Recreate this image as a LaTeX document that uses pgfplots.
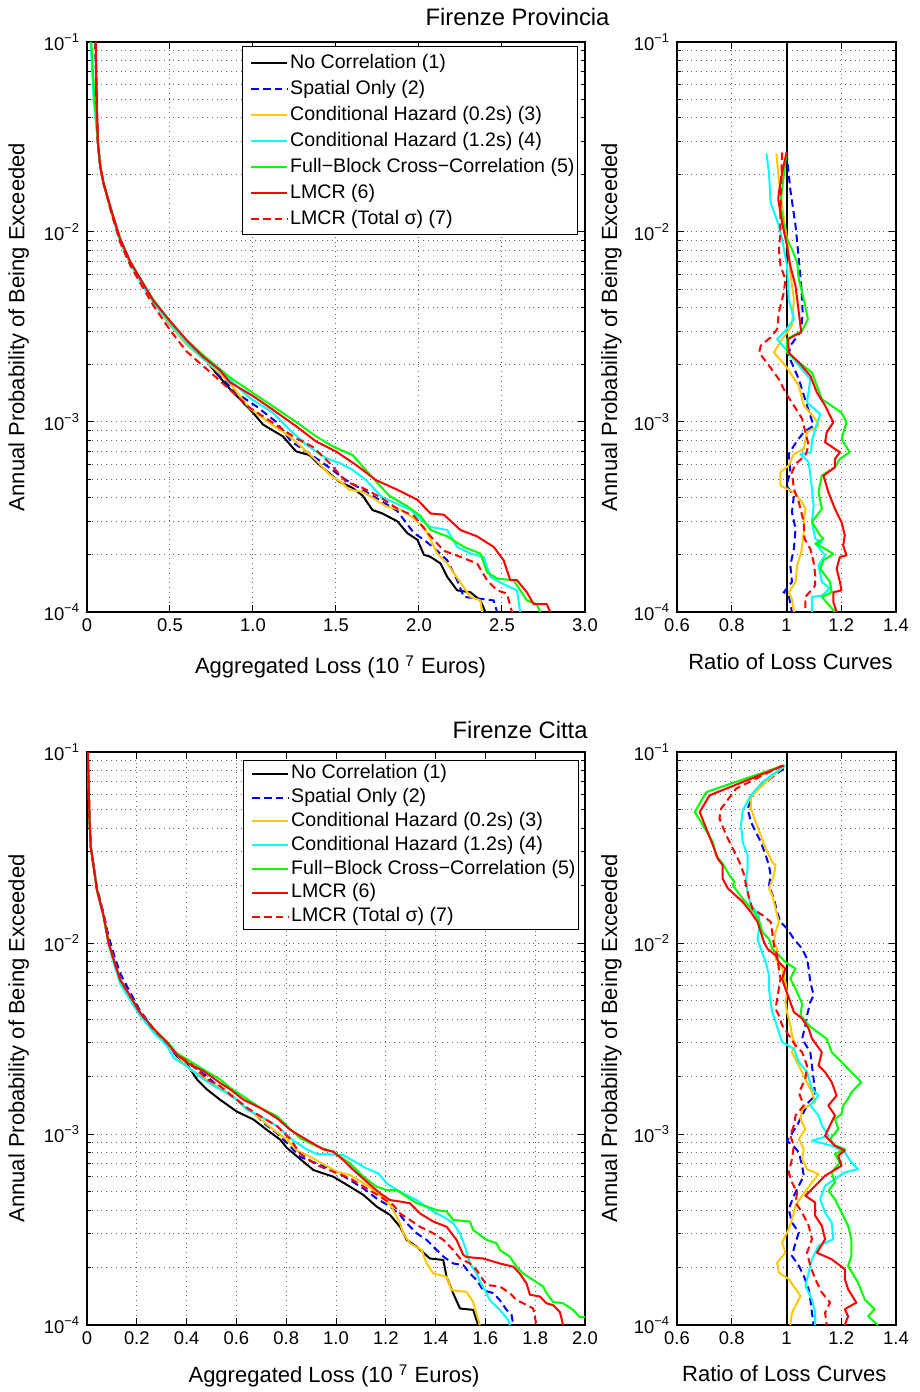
\documentclass[border=0pt]{standalone}
\usepackage{fontspec}
\setmainfont{Liberation Sans}
\usepackage{pgfplots}
\pgfplotsset{compat=1.18}
\definecolor{cYel}{rgb}{1,0.78,0}
\definecolor{cCya}{rgb}{0,1,1}
\definecolor{cGre}{rgb}{0,1,0}
\tikzset{
  curveA/.style={black, line width=1pt, line join=round},
  curveB/.style={blue, line width=1pt, dash pattern=on 3.7pt off 2.2pt},
  curveC/.style={cYel, line width=1pt, line join=round},
  curveD/.style={cCya, line width=1pt, line join=round},
  curveE/.style={cGre, line width=1pt, line join=round},
  curveF/.style={red, line width=1pt, line join=round},
  curveG/.style={red, line width=1pt, dash pattern=on 3.7pt off 2.2pt},
}
\begin{document}
\begin{tikzpicture}
\useasboundingbox (0,0) rectangle (460pt,696pt);
% ---------------- top left ----------------
\begin{axis}[scale only axis, anchor=south west, at={(43.5pt,390pt)}, width=249pt, height=285pt,
  ymode=log, ymin=1e-4, ymax=1e-1, ytick={1e-4,1e-3,1e-2,1e-1},
  yticklabels={10\textsuperscript{−4},10\textsuperscript{−3},10\textsuperscript{−2},10\textsuperscript{−1}},
  ymajorgrids=true, yminorgrids=true, xmajorgrids=true,
  major grid style={dotted, black!60, line width=0.5pt},
  minor grid style={dotted, black!60, line width=0.5pt},
  major tick length=3.5pt, minor tick length=2pt,
  tick style={black, line width=0.5pt},
  axis line style={black, line width=0.6pt},
  tick label style={font=\fontsize{9.2}{11}\selectfont},
  label style={font=\fontsize{11}{13}\selectfont},
  every axis title shift=0pt,
  title style={font=\fontsize{11.9}{14}\selectfont, inner sep=0pt},
  ylabel={Annual Probability of Being Exceeded},
  legend cell align=left,
  legend image code/.code={\draw[line width=1pt,#1] (3.5pt,0pt) -- (21.5pt,0pt); \path (0pt,0pt);},
  xmin=0, xmax=3, xtick={0,0.5,1,1.5,2,2.5,3}, xticklabels={0,0.5,1.0,1.5,2.0,2.5,3.0},
  xlabel={Aggregated Loss (10 \textsuperscript{7} Euros)},
  xlabel style={at={(axis description cs:0.509,-0.0965)}, anchor=center},
  ylabel style={at={(axis description cs:-0.137,0.5)}, anchor=center},
  title={Firenze Provincia},
  title style={at={(axis description cs:1.05,1.044)}, anchor=east},
  legend style={at={(axis description cs:0.986,0.993)}, anchor=north east, draw=black, line width=0.7pt, fill=white, inner xsep=0.5pt, inner ysep=1.5pt, row sep=0pt, font=\fontsize{9.8}{11}\selectfont, nodes={inner sep=0.9pt, text height=8.3pt, text depth=2.9pt}},
]
\addplot[curveA] coordinates {(0.052,0.1) (0.058,0.05) (0.065,0.03) (0.08,0.022) (0.1,0.018) (0.15,0.0125) (0.2,9.0e-3) (0.26,6.9e-3) (0.32,5.6e-3) (0.4,4.3e-3) (0.5,3.25e-3) (0.6,2.6e-3) (0.7,2.2e-3) (0.78,1.8e-3) (0.859,1.5e-3) (1.0,1.12e-3) (1.06,9.7e-4) (1.18,8.4e-4) (1.26,7.0e-4) (1.34,6.7e-4) (1.40,5.95e-4) (1.52,4.85e-4) (1.60,4.5e-4) (1.66,4.1e-4) (1.72,3.44e-4) (1.78,3.3e-4) (1.87,3.0e-4) (1.93,2.6e-4) (1.99,2.4e-4) (2.03,2.0e-4) (2.07,1.95e-4) (2.13,1.8e-4) (2.17,1.53e-4) (2.23,1.3e-4) (2.31,1.27e-4) (2.37,1.15e-4) (2.40,1.0e-4)};
\addlegendentry{No Correlation (1)}
\addplot[curveB] coordinates {(0.05,0.1) (0.056,0.05) (0.065,0.03) (0.08,0.022) (0.1,0.018) (0.15,0.0127) (0.2,9.2e-3) (0.26,7.0e-3) (0.32,5.6e-3) (0.4,4.3e-3) (0.5,3.3e-3) (0.6,2.65e-3) (0.7,2.2e-3) (0.8,1.75e-3) (0.9,1.42e-3) (1.02,1.21e-3) (1.14,1.0e-3) (1.23,7.9e-4) (1.32,7.0e-4) (1.42,6.1e-4) (1.56,4.95e-4) (1.66,4.4e-4) (1.76,3.9e-4) (1.87,3.4e-4) (1.91,3.05e-4) (1.97,2.6e-4) (2.03,2.4e-4) (2.11,2.1e-4) (2.17,1.87e-4) (2.23,1.47e-4) (2.27,1.2e-4) (2.35,1.18e-4) (2.45,1.15e-4) (2.47,1.0e-4)};
\addlegendentry{Spatial Only (2)}
\addplot[curveC] coordinates {(0.025,0.1) (0.045,0.05) (0.065,0.03) (0.08,0.022) (0.1,0.018) (0.15,0.0125) (0.2,9.0e-3) (0.26,6.9e-3) (0.32,5.6e-3) (0.4,4.25e-3) (0.5,3.25e-3) (0.6,2.55e-3) (0.7,2.15e-3) (0.8,1.8e-3) (0.86,1.6e-3) (0.98,1.18e-3) (1.10,9.9e-4) (1.22,8.4e-4) (1.30,7.3e-4) (1.38,6.3e-4) (1.46,5.3e-4) (1.54,4.76e-4) (1.58,4.4e-4) (1.66,4.3e-4) (1.74,3.9e-4) (1.80,3.6e-4) (1.89,3.45e-4) (1.95,3.2e-4) (2.03,2.8e-4) (2.07,2.4e-4) (2.11,2.03e-4) (2.17,1.8e-4) (2.21,1.6e-4) (2.27,1.35e-4) (2.31,1.2e-4) (2.37,1.15e-4) (2.38,1.0e-4)};
\addlegendentry{Conditional Hazard (0.2s) (3)}
\addplot[curveD] coordinates {(0.022,0.1) (0.04,0.05) (0.065,0.03) (0.08,0.022) (0.1,0.018) (0.15,0.0124) (0.2,8.9e-3) (0.26,6.8e-3) (0.32,5.5e-3) (0.4,4.25e-3) (0.5,3.3e-3) (0.6,2.6e-3) (0.7,2.15e-3) (0.8,1.85e-3) (0.86,1.67e-3) (0.98,1.34e-3) (1.12,1.12e-3) (1.22,9.1e-4) (1.32,7.6e-4) (1.44,6.45e-4) (1.52,6.1e-4) (1.60,5.6e-4) (1.68,4.95e-4) (1.78,4.0e-4) (1.87,3.7e-4) (1.95,3.45e-4) (2.01,3.05e-4) (2.07,2.8e-4) (2.17,2.7e-4) (2.23,2.2e-4) (2.31,2.03e-4) (2.39,1.95e-4) (2.43,1.53e-4) (2.51,1.4e-4) (2.59,1.3e-4) (2.61,1.0e-4)};
\addlegendentry{Conditional Hazard (1.2s) (4)}
\addplot[curveE] coordinates {(0.025,0.1) (0.045,0.05) (0.065,0.03) (0.08,0.022) (0.1,0.018) (0.15,0.0127) (0.2,9.2e-3) (0.26,7.0e-3) (0.32,5.7e-3) (0.4,4.4e-3) (0.5,3.4e-3) (0.6,2.7e-3) (0.7,2.25e-3) (0.8,1.9e-3) (0.86,1.72e-3) (1.0,1.42e-3) (1.12,1.21e-3) (1.26,1.0e-3) (1.38,8.4e-4) (1.48,7.45e-4) (1.60,6.7e-4) (1.72,5.1e-4) (1.82,4.1e-4) (1.93,3.6e-4) (2.01,3.2e-4) (2.07,2.7e-4) (2.17,2.5e-4) (2.27,2.2e-4) (2.37,2.03e-4) (2.41,1.62e-4) (2.47,1.5e-4) (2.57,1.47e-4) (2.65,1.15e-4) (2.71,1.1e-4) (2.73,1.0e-4)};
\addlegendentry{Full−Block Cross−Correlation (5)}
\addplot[curveF] coordinates {(0.052,0.1) (0.058,0.05) (0.065,0.03) (0.08,0.022) (0.1,0.018) (0.15,0.0127) (0.2,9.2e-3) (0.26,7.0e-3) (0.32,5.7e-3) (0.4,4.35e-3) (0.5,3.4e-3) (0.6,2.7e-3) (0.7,2.2e-3) (0.8,1.88e-3) (0.86,1.62e-3) (1.0,1.37e-3) (1.12,1.16e-3) (1.26,9.5e-4) (1.38,7.9e-4) (1.50,7.0e-4) (1.62,5.95e-4) (1.74,4.95e-4) (1.87,4.4e-4) (1.99,3.9e-4) (2.07,3.3e-4) (2.15,3.25e-4) (2.25,2.7e-4) (2.35,2.5e-4) (2.45,2.2e-4) (2.51,1.87e-4) (2.55,1.47e-4) (2.59,1.47e-4) (2.65,1.27e-4) (2.69,1.1e-4) (2.77,1.1e-4) (2.79,1.0e-4)};
\addlegendentry{LMCR (6)}
\addplot[curveG] coordinates {(0.052,0.1) (0.058,0.05) (0.065,0.03) (0.08,0.022) (0.1,0.018) (0.15,0.0123) (0.2,8.8e-3) (0.26,6.7e-3) (0.32,5.4e-3) (0.4,4.1e-3) (0.5,3.05e-3) (0.6,2.35e-3) (0.7,1.97e-3) (0.8,1.65e-3) (0.86,1.48e-3) (0.98,1.19e-3) (1.12,9.9e-4) (1.26,8.2e-4) (1.36,7.4e-4) (1.46,6.1e-4) (1.56,4.85e-4) (1.66,4.5e-4) (1.76,4.05e-4) (1.87,3.5e-4) (1.97,3.2e-4) (2.07,2.5e-4) (2.15,2.1e-4) (2.25,1.95e-4) (2.35,1.8e-4) (2.41,1.47e-4) (2.47,1.3e-4) (2.53,1.25e-4) (2.56,1.0e-4)};
\addlegendentry{LMCR (Total σ) (7)}
\end{axis}
% ---------------- top right ----------------
\begin{axis}[scale only axis, anchor=south west, at={(338.5pt,390pt)}, width=109.5pt, height=285pt,
  ymode=log, ymin=1e-4, ymax=1e-1, ytick={1e-4,1e-3,1e-2,1e-1},
  yticklabels={10\textsuperscript{−4},10\textsuperscript{−3},10\textsuperscript{−2},10\textsuperscript{−1}},
  ymajorgrids=true, yminorgrids=true, xmajorgrids=true,
  major grid style={dotted, black!60, line width=0.5pt},
  minor grid style={dotted, black!60, line width=0.5pt},
  major tick length=3.5pt, minor tick length=2pt,
  tick style={black, line width=0.5pt},
  axis line style={black, line width=0.6pt},
  tick label style={font=\fontsize{9.2}{11}\selectfont},
  label style={font=\fontsize{11}{13}\selectfont},
  ylabel={Annual Probability of Being Exceeded},
  xmin=0.6, xmax=1.4, xtick={0.6,0.8,1,1.2,1.4}, xticklabels={0.6,0.8,1,1.2,1.4},
  xlabel={Ratio of Loss Curves},
  xlabel style={at={(axis description cs:0.518,-0.0877)}, anchor=center},
  ylabel style={at={(axis description cs:-0.299,0.5)}, anchor=center},
]
\addplot[curveA] coordinates {(1,1e-4) (1,1e-1)};
\addplot[curveB] coordinates {(1.0,0.0262) (1.014,0.0167) (1.033,0.0108) (1.045,7.18e-3) (1.054,5.2e-3) (1.059,3.77e-3) (1.054,3.02e-3) (1.014,2.52e-3) (1.008,2.23e-3) (1.045,1.68e-3) (1.075,1.22e-3) (1.099,9.58e-4) (1.063,8.83e-4) (1.039,7.98e-4) (1.008,6.79e-4) (1.014,5.44e-4) (0.999,4.63e-4) (1.027,4.1e-4) (1.020,3.35e-4) (1.033,2.74e-4) (1.027,2.15e-4) (1.014,1.76e-4) (1.020,1.44e-4) (0.990,1.27e-4) (1.008,1.22e-4) (1.020,1.0e-4)};
\addplot[curveC] coordinates {(0.963,0.0259) (0.972,0.0189) (0.984,0.0137) (1.002,9.15e-3) (1.014,6.11e-3) (1.027,4.43e-3) (1.020,3.21e-3) (0.984,2.73e-3) (0.954,2.32e-3) (0.996,1.98e-3) (1.045,1.55e-3) (1.063,1.22e-3) (1.105,1.04e-3) (1.117,9.58e-4) (1.075,8.83e-4) (1.063,7.21e-4) (1.027,6.79e-4) (1.008,5.9e-4) (0.978,5.44e-4) (0.978,4.63e-4) (1.027,4.27e-4) (1.057,3.78e-4) (1.069,3.49e-4) (1.063,2.97e-4) (1.063,2.63e-4) (1.054,2.07e-4) (1.039,1.76e-4) (1.033,1.44e-4) (1.008,1.27e-4) (1.020,1.17e-4) (1.027,1.0e-4)};
\addplot[curveD] coordinates {(0.9265,0.0259) (0.936,0.0205) (0.942,0.0143) (0.972,0.0108) (0.984,9.15e-3) (1.002,6.63e-3) (1.008,4.43e-3) (1.027,3.48e-3) (0.996,3.02e-3) (0.966,2.73e-3) (1.008,2.32e-3) (1.045,1.98e-3) (1.087,1.68e-3) (1.075,1.27e-3) (1.123,1.10e-3) (1.105,9.19e-4) (1.093,7.98e-4) (1.090,6.93e-4) (1.051,6.79e-4) (1.081,6.14e-4) (1.093,4.45e-4) (1.099,3.63e-4) (1.093,2.97e-4) (1.105,2.43e-4) (1.129,2.33e-4) (1.111,2.24e-4) (1.141,1.99e-4) (1.117,1.76e-4) (1.129,1.44e-4) (1.159,1.33e-4) (1.129,1.22e-4) (1.093,1.2e-4) (1.093,1.0e-4)};
\addplot[curveE] coordinates {(1.0,0.0262) (0.987,0.0182) (0.978,0.0143) (0.996,9.53e-3) (1.020,8.11e-3) (1.039,6.9e-3) (1.045,5.64e-3) (1.063,4.43e-3) (1.078,3.48e-3) (1.057,3.02e-3) (1.002,2.73e-3) (1.002,2.32e-3) (1.045,2.06e-3) (1.093,1.82e-3) (1.129,1.32e-3) (1.201,1.12e-3) (1.219,9.96e-4) (1.201,8.14e-4) (1.231,6.93e-4) (1.195,6.39e-4) (1.177,5.78e-4) (1.129,5.22e-4) (1.117,4.27e-4) (1.129,3.49e-4) (1.093,2.97e-4) (1.123,2.53e-4) (1.135,2.43e-4) (1.105,2.29e-4) (1.141,2.15e-4) (1.171,2.02e-4) (1.135,1.87e-4) (1.123,1.69e-4) (1.159,1.44e-4) (1.165,1.27e-4) (1.129,1.2e-4) (1.177,1.0e-4)};
\addplot[curveF] coordinates {(1.0,0.0262) (0.984,0.0205) (0.972,0.0161) (0.970,0.0148) (0.984,0.0112) (1.002,8.44e-3) (1.014,6.63e-3) (1.033,5.2e-3) (1.045,3.77e-3) (1.054,2.96e-3) (1.027,2.84e-3) (1.006,2.73e-3) (1.008,2.32e-3) (1.045,2.06e-3) (1.087,1.75e-3) (1.111,1.43e-3) (1.141,1.22e-3) (1.171,9.96e-4) (1.147,8.83e-4) (1.141,7.82e-4) (1.195,6.93e-4) (1.177,6.39e-4) (1.177,5.78e-4) (1.135,5.22e-4) (1.153,4.27e-4) (1.177,3.49e-4) (1.201,2.97e-4) (1.213,2.53e-4) (1.207,2.24e-4) (1.219,1.99e-4) (1.195,1.95e-4) (1.183,1.69e-4) (1.195,1.44e-4) (1.201,1.3e-4) (1.171,1.27e-4) (1.171,1.13e-4) (1.183,1.0e-4)};
\addplot[curveG] coordinates {(0.984,0.0262) (0.978,0.0137) (0.978,9.9e-3) (0.972,8.11e-3) (0.978,6.63e-3) (0.996,5.64e-3) (0.990,4.8e-3) (0.972,3.77e-3) (0.966,3.08e-3) (0.942,2.79e-3) (0.906,2.52e-3) (0.900,2.32e-3) (0.936,1.98e-3) (0.972,1.68e-3) (0.996,1.43e-3) (1.027,1.22e-3) (1.057,1.04e-3) (1.069,8.83e-4) (1.081,7.52e-4) (1.069,6.66e-4) (1.033,6.02e-4) (1.020,5.44e-4) (1.027,4.45e-4) (1.045,3.78e-4) (1.063,2.97e-4) (1.066,2.43e-4) (1.087,2.15e-4) (1.099,1.83e-4) (1.105,1.56e-4) (1.105,1.38e-4) (1.069,1.2e-4) (1.069,1.0e-4)};
\end{axis}
% ---------------- bottom left ----------------
\begin{axis}[scale only axis, anchor=south west, at={(43.5pt,33.5pt)}, width=249pt, height=286.5pt,
  ymode=log, ymin=1e-4, ymax=1e-1, ytick={1e-4,1e-3,1e-2,1e-1},
  yticklabels={10\textsuperscript{−4},10\textsuperscript{−3},10\textsuperscript{−2},10\textsuperscript{−1}},
  ymajorgrids=true, yminorgrids=true, xmajorgrids=true,
  major grid style={dotted, black!60, line width=0.5pt},
  minor grid style={dotted, black!60, line width=0.5pt},
  major tick length=3.5pt, minor tick length=2pt,
  tick style={black, line width=0.5pt},
  axis line style={black, line width=0.6pt},
  tick label style={font=\fontsize{9.2}{11}\selectfont},
  label style={font=\fontsize{11}{13}\selectfont},
  every axis title shift=0pt,
  title style={font=\fontsize{11.9}{14}\selectfont, inner sep=0pt},
  ylabel={Annual Probability of Being Exceeded},
  legend cell align=left,
  legend image code/.code={\draw[line width=1pt,#1] (3.5pt,0pt) -- (21.5pt,0pt); \path (0pt,0pt);},
  xmin=0, xmax=2, xtick={0,0.2,0.4,0.6,0.8,1,1.2,1.4,1.6,1.8,2}, xticklabels={0,0.2,0.4,0.6,0.8,1.0,1.2,1.4,1.6,1.8,2.0},
  xlabel={Aggregated Loss (10 \textsuperscript{7} Euros)},
  xlabel style={at={(axis description cs:0.496,-0.089)}, anchor=center},
  ylabel style={at={(axis description cs:-0.137,0.5)}, anchor=center},
  title={Firenze Citta},
  title style={at={(axis description cs:1.006,1.038)}, anchor=east},
  legend style={at={(axis description cs:0.988,0.986)}, anchor=north east, draw=black, line width=0.7pt, fill=white, inner xsep=0.5pt, inner ysep=0.6pt, row sep=0pt, font=\fontsize{9.8}{11}\selectfont, nodes={inner sep=0.9pt, text height=7.6pt, text depth=2.5pt}},
]
\addplot[curveA] coordinates {(0.003,0.1) (0.01,0.045) (0.015,0.032) (0.04,0.019) (0.067,0.0138) (0.087,0.01) (0.107,8.2e-3) (0.134,6.4e-3) (0.174,5.26e-3) (0.214,4.3e-3) (0.268,3.52e-3) (0.321,3.0e-3) (0.361,2.55e-3) (0.402,2.31e-3) (0.442,1.93e-3) (0.482,1.71e-3) (0.535,1.51e-3) (0.602,1.31e-3) (0.669,1.19e-3) (0.723,1.05e-3) (0.776,9.34e-4) (0.803,8.45e-4) (0.856,7.4e-4) (0.909,6.48e-4) (0.989,5.98e-4) (1.056,5.3e-4) (1.110,4.8e-4) (1.163,4.17e-4) (1.217,3.77e-4) (1.257,3.27e-4) (1.284,2.79e-4) (1.324,2.57e-4) (1.377,2.23e-4) (1.431,2.19e-4) (1.444,1.79e-4) (1.471,1.46e-4) (1.498,1.22e-4) (1.551,1.2e-4) (1.571,1.0e-4)};
\addlegendentry{No Correlation (1)}
\addplot[curveB] coordinates {(0.003,0.1) (0.01,0.045) (0.015,0.032) (0.04,0.0195) (0.067,0.0142) (0.087,0.0108) (0.107,8.8e-3) (0.134,6.9e-3) (0.174,5.5e-3) (0.214,4.4e-3) (0.268,3.55e-3) (0.321,3.0e-3) (0.361,2.55e-3) (0.415,2.31e-3) (0.482,2.0e-3) (0.535,1.74e-3) (0.602,1.51e-3) (0.669,1.29e-3) (0.71,1.14e-3) (0.763,1.01e-3) (0.803,8.97e-4) (0.856,7.6e-4) (0.922,7.02e-4) (0.989,6.48e-4) (1.056,5.74e-4) (1.110,5.19e-4) (1.163,4.6e-4) (1.217,4.17e-4) (1.257,3.77e-4) (1.284,3.41e-4) (1.324,3.02e-4) (1.364,2.79e-4) (1.391,2.57e-4) (1.431,2.28e-4) (1.471,2.1e-4) (1.511,2.06e-4) (1.538,1.86e-4) (1.565,1.72e-4) (1.591,1.52e-4) (1.631,1.47e-4) (1.658,1.35e-4) (1.685,1.2e-4) (1.705,1.13e-4) (1.712,1.0e-4)};
\addlegendentry{Spatial Only (2)}
\addplot[curveC] coordinates {(0.003,0.1) (0.01,0.045) (0.015,0.032) (0.04,0.019) (0.067,0.0138) (0.087,0.01) (0.107,8.2e-3) (0.134,6.4e-3) (0.174,5.2e-3) (0.214,4.25e-3) (0.268,3.5e-3) (0.321,2.95e-3) (0.361,2.6e-3) (0.415,2.17e-3) (0.482,1.93e-3) (0.535,1.74e-3) (0.576,1.61e-3) (0.629,1.40e-3) (0.683,1.24e-3) (0.75,1.05e-3) (0.803,9.34e-4) (0.843,8.2e-4) (0.896,7.61e-4) (1.003,6.35e-4) (1.056,6.1e-4) (1.123,5.41e-4) (1.177,4.8e-4) (1.223,4.17e-4) (1.257,3.41e-4) (1.270,3.02e-4) (1.297,2.68e-4) (1.344,2.47e-4) (1.364,2.1e-4) (1.391,1.86e-4) (1.444,1.79e-4) (1.464,1.52e-4) (1.524,1.49e-4) (1.551,1.32e-4) (1.565,1.13e-4) (1.578,1.0e-4)};
\addlegendentry{Conditional Hazard (0.2s) (3)}
\addplot[curveD] coordinates {(0.003,0.1) (0.01,0.045) (0.015,0.032) (0.04,0.019) (0.067,0.0136) (0.087,0.0098) (0.107,7.9e-3) (0.134,6.1e-3) (0.174,5.0e-3) (0.214,4.15e-3) (0.268,3.4e-3) (0.321,2.9e-3) (0.348,2.5e-3) (0.402,2.26e-3) (0.469,1.93e-3) (0.535,1.71e-3) (0.589,1.57e-3) (0.643,1.34e-3) (0.696,1.24e-3) (0.763,1.1e-3) (0.83,9.2e-4) (0.884,8.3e-4) (0.922,7.86e-4) (0.989,7.8e-4) (1.029,7.76e-4) (1.123,6.6e-4) (1.170,6.22e-4) (1.203,5.52e-4) (1.257,4.99e-4) (1.324,4.51e-4) (1.391,3.92e-4) (1.431,3.69e-4) (1.471,3.41e-4) (1.498,3.02e-4) (1.518,2.57e-4) (1.538,2.1e-4) (1.565,1.86e-4) (1.578,1.69e-4) (1.598,1.52e-4) (1.618,1.35e-4) (1.658,1.2e-4) (1.692,1.06e-4) (1.698,1.0e-4)};
\addlegendentry{Conditional Hazard (1.2s) (4)}
\addplot[curveE] coordinates {(0.003,0.1) (0.01,0.045) (0.015,0.032) (0.04,0.019) (0.067,0.0138) (0.087,0.01) (0.107,8.2e-3) (0.134,6.4e-3) (0.174,5.26e-3) (0.214,4.3e-3) (0.268,3.55e-3) (0.321,3.05e-3) (0.361,2.65e-3) (0.415,2.4e-3) (0.469,2.17e-3) (0.535,1.93e-3) (0.576,1.74e-3) (0.629,1.57e-3) (0.696,1.37e-3) (0.763,1.24e-3) (0.803,1.1e-3) (0.857,9.5e-4) (0.924,8.6e-4) (0.989,8.08e-4) (1.056,7.02e-4) (1.110,5.98e-4) (1.163,5.3e-4) (1.203,5.09e-4) (1.243,5.09e-4) (1.284,4.7e-4) (1.324,4.34e-4) (1.364,4.17e-4) (1.404,4.0e-4) (1.444,3.93e-4) (1.471,3.55e-4) (1.538,3.48e-4) (1.551,3.14e-4) (1.605,2.79e-4) (1.645,2.68e-4) (1.658,2.47e-4) (1.698,2.28e-4) (1.725,2.02e-4) (1.752,1.86e-4) (1.792,1.72e-4) (1.832,1.59e-4) (1.845,1.47e-4) (1.872,1.32e-4) (1.912,1.3e-4) (1.952,1.2e-4) (1.979,1.1e-4) (2.0,1.1e-4)};
\addlegendentry{Full−Block Cross−Correlation (5)}
\addplot[curveF] coordinates {(0.003,0.1) (0.01,0.045) (0.015,0.032) (0.04,0.019) (0.067,0.0138) (0.087,0.01) (0.107,8.2e-3) (0.134,6.4e-3) (0.174,5.26e-3) (0.214,4.3e-3) (0.268,3.55e-3) (0.321,3.02e-3) (0.361,2.6e-3) (0.415,2.31e-3) (0.469,2.13e-3) (0.535,1.85e-3) (0.576,1.71e-3) (0.629,1.51e-3) (0.696,1.37e-3) (0.763,1.21e-3) (0.817,1.05e-3) (0.884,9.3e-4) (0.95,8.3e-4) (0.989,8.08e-4) (1.029,7.31e-4) (1.070,6.48e-4) (1.123,5.63e-4) (1.177,4.89e-4) (1.217,4.51e-4) (1.257,4.43e-4) (1.297,4.34e-4) (1.337,3.84e-4) (1.391,3.48e-4) (1.444,3.27e-4) (1.484,2.79e-4) (1.511,2.33e-4) (1.524,2.27e-4) (1.591,2.23e-4) (1.658,2.1e-4) (1.712,2.02e-4) (1.738,1.86e-4) (1.765,1.65e-4) (1.779,1.44e-4) (1.819,1.41e-4) (1.845,1.3e-4) (1.872,1.27e-4) (1.899,1.17e-4) (1.912,1.0e-4)};
\addlegendentry{LMCR (6)}
\addplot[curveG] coordinates {(0.003,0.1) (0.01,0.045) (0.015,0.032) (0.04,0.019) (0.067,0.0138) (0.087,0.01) (0.107,8.2e-3) (0.134,6.4e-3) (0.174,5.26e-3) (0.214,4.3e-3) (0.268,3.52e-3) (0.321,3.0e-3) (0.361,2.6e-3) (0.415,2.35e-3) (0.482,1.93e-3) (0.535,1.78e-3) (0.602,1.51e-3) (0.643,1.37e-3) (0.696,1.24e-3) (0.763,1.1e-3) (0.817,9.4e-4) (0.856,7.9e-4) (0.922,6.88e-4) (0.989,6.35e-4) (1.056,5.86e-4) (1.123,5.19e-4) (1.177,4.7e-4) (1.230,4.25e-4) (1.257,3.84e-4) (1.297,3.55e-4) (1.337,3.27e-4) (1.391,3.02e-4) (1.431,2.79e-4) (1.471,2.47e-4) (1.498,2.23e-4) (1.538,2.1e-4) (1.565,1.94e-4) (1.591,1.72e-4) (1.605,1.62e-4) (1.658,1.59e-4) (1.698,1.47e-4) (1.725,1.35e-4) (1.752,1.3e-4) (1.792,1.22e-4) (1.805,1.0e-4)};
\addlegendentry{LMCR (Total σ) (7)}
\end{axis}
% ---------------- bottom right ----------------
\begin{axis}[scale only axis, anchor=south west, at={(338.5pt,33.5pt)}, width=109.5pt, height=286.5pt,
  ymode=log, ymin=1e-4, ymax=1e-1, ytick={1e-4,1e-3,1e-2,1e-1},
  yticklabels={10\textsuperscript{−4},10\textsuperscript{−3},10\textsuperscript{−2},10\textsuperscript{−1}},
  ymajorgrids=true, yminorgrids=true, xmajorgrids=true,
  major grid style={dotted, black!60, line width=0.5pt},
  minor grid style={dotted, black!60, line width=0.5pt},
  major tick length=3.5pt, minor tick length=2pt,
  tick style={black, line width=0.5pt},
  axis line style={black, line width=0.6pt},
  tick label style={font=\fontsize{9.2}{11}\selectfont},
  label style={font=\fontsize{11}{13}\selectfont},
  ylabel={Annual Probability of Being Exceeded},
  xmin=0.6, xmax=1.4, xtick={0.6,0.8,1,1.2,1.4}, xticklabels={0.6,0.8,1,1.2,1.4},
  xlabel={Ratio of Loss Curves},
  xlabel style={at={(axis description cs:0.49,-0.0855)}, anchor=center},
  ylabel style={at={(axis description cs:-0.299,0.5)}, anchor=center},
]
\addplot[curveA] coordinates {(1,1e-4) (1,1e-1)};
\addplot[curveB] coordinates {(0.99,0.0818) (0.924,0.0697) (0.882,0.0617) (0.858,0.0505) (0.87,0.043) (0.888,0.0381) (0.906,0.0338) (0.924,0.0288) (0.936,0.0255) (0.942,0.0226) (0.936,0.02) (0.954,0.0171) (0.966,0.0145) (0.978,0.0129) (1.002,0.0119) (1.027,0.0105) (1.057,9.34e-3) (1.075,8.28e-3) (1.081,7.34e-3) (1.087,6.25e-3) (1.099,5.32e-3) (1.087,4.91e-3) (1.075,4.18e-3) (1.069,3.71e-3) (1.057,3.15e-3) (1.087,2.68e-3) (1.093,2.28e-3) (1.099,1.94e-3) (1.105,1.59e-3) (1.081,1.47e-3) (1.057,1.25e-3) (1.039,1.11e-3) (1.002,9.2e-4) (1.027,8.6e-4) (1.045,8.02e-4) (1.057,6.82e-4) (1.063,6.05e-4) (1.045,5.36e-4) (1.027,4.75e-4) (1.008,4.04e-4) (1.02,3.44e-4) (1.045,3.05e-4) (1.033,2.7e-4) (1.02,2.3e-4) (1.045,2.04e-4) (1.063,1.81e-4) (1.081,1.54e-4) (1.087,1.36e-4) (1.093,1.16e-4) (1.099,1.0e-4)};
\addplot[curveC] coordinates {(0.995,0.085) (0.924,0.0697) (0.87,0.0581) (0.87,0.0505) (0.888,0.043) (0.906,0.0366) (0.924,0.0312) (0.948,0.0265) (0.96,0.0255) (0.954,0.0226) (0.936,0.0193) (0.948,0.0178) (0.96,0.0151) (0.972,0.0129) (0.96,0.0114) (0.954,0.0101) (0.966,9.34e-3) (0.96,8.28e-3) (0.984,7.34e-3) (0.996,6.25e-3) (1.002,5.54e-3) (0.996,4.91e-3) (1.002,4.35e-3) (1.014,3.71e-3) (1.02,3.29e-3) (1.033,2.91e-3) (1.02,2.68e-3) (1.045,2.28e-3) (1.069,1.94e-3) (1.093,1.65e-3) (1.105,1.47e-3) (1.057,1.35e-3) (1.051,1.2e-3) (1.069,1.06e-3) (1.045,9.42e-4) (1.063,8.34e-4) (1.057,7.4e-4) (1.075,6.55e-4) (1.117,6.17e-4) (1.093,5.58e-4) (1.057,4.75e-4) (1.033,4.21e-4) (1.02,3.58e-4) (1.008,3.18e-4) (0.984,2.7e-4) (0.996,2.39e-4) (0.966,2.12e-4) (0.972,1.88e-4) (1.008,1.74e-4) (1.051,1.42e-4) (1.02,1.16e-4) (1.014,1.0e-4)};
\addplot[curveD] coordinates {(0.995,0.085) (0.912,0.0697) (0.87,0.0593) (0.84,0.0495) (0.834,0.0413) (0.84,0.0338) (0.858,0.0288) (0.858,0.0245) (0.852,0.0217) (0.858,0.0185) (0.87,0.0157) (0.9,0.014) (0.9,0.0119) (0.894,0.0105) (0.906,9.34e-3) (0.924,7.95e-3) (0.936,6.77e-3) (0.936,5.77e-3) (0.942,4.91e-3) (0.948,4.35e-3) (0.96,3.86e-3) (0.972,3.42e-3) (0.984,3.03e-3) (1.027,2.79e-3) (1.045,2.38e-3) (1.075,2.11e-3) (1.093,1.72e-3) (1.117,1.59e-3) (1.087,1.41e-3) (1.117,1.25e-3) (1.129,1.11e-3) (1.153,9.8e-4) (1.093,9.23e-4) (1.165,8.69e-4) (1.213,8.02e-4) (1.237,7.1e-4) (1.261,6.55e-4) (1.213,6.29e-4) (1.177,5.81e-4) (1.141,5.36e-4) (1.123,4.56e-4) (1.141,3.88e-4) (1.165,3.44e-4) (1.171,2.81e-4) (1.117,2.6e-4) (1.093,2.21e-4) (1.081,1.88e-4) (1.069,1.6e-4) (1.093,1.36e-4) (1.105,1.16e-4) (1.105,1.0e-4)};
\addplot[curveE] coordinates {(0.99,0.085) (0.707,0.0617) (0.665,0.0485) (0.695,0.0413) (0.731,0.0338) (0.743,0.0288) (0.767,0.026) (0.792,0.0226) (0.81,0.0209) (0.804,0.02) (0.84,0.0171) (0.882,0.0145) (0.9,0.0131) (0.912,0.0114) (0.936,0.0105) (0.948,9.34e-3) (0.972,8.62e-3) (0.996,7.95e-3) (1.033,7.34e-3) (1.014,6.5e-3) (1.033,5.77e-3) (1.057,4.81e-3) (1.051,4.18e-3) (1.081,3.71e-3) (1.129,3.29e-3) (1.147,3.15e-3) (1.165,2.68e-3) (1.201,2.38e-3) (1.237,2.11e-3) (1.273,1.87e-3) (1.237,1.65e-3) (1.225,1.53e-3) (1.207,1.41e-3) (1.201,1.27e-3) (1.177,1.2e-3) (1.189,1.06e-3) (1.159,9.42e-4) (1.177,8.69e-4) (1.213,8.34e-4) (1.177,7.85e-4) (1.195,7.1e-4) (1.165,6.29e-4) (1.177,5.58e-4) (1.153,5.05e-4) (1.177,4.56e-4) (1.201,3.88e-4) (1.225,3.31e-4) (1.237,2.81e-4) (1.237,2.3e-4) (1.225,2.04e-4) (1.261,1.67e-4) (1.286,1.36e-4) (1.322,1.21e-4) (1.298,1.11e-4) (1.334,1.0e-4)};
\addplot[curveF] coordinates {(0.99,0.085) (0.719,0.0593) (0.683,0.0485) (0.707,0.0397) (0.731,0.0325) (0.749,0.0276) (0.767,0.0255) (0.767,0.0217) (0.786,0.0193) (0.84,0.0164) (0.87,0.0145) (0.894,0.0129) (0.906,0.0114) (0.918,0.0101) (0.93,9.34e-3) (0.96,8.62e-3) (0.972,7.95e-3) (0.996,7.34e-3) (0.984,6.5e-3) (0.996,5.77e-3) (1.014,4.91e-3) (1.027,4.35e-3) (1.057,4.02e-3) (1.081,3.56e-3) (1.093,3.16e-3) (1.129,2.68e-3) (1.117,2.28e-3) (1.141,2.11e-3) (1.165,1.87e-3) (1.183,1.59e-3) (1.153,1.41e-3) (1.177,1.25e-3) (1.159,1.11e-3) (1.141,9.8e-4) (1.177,8.69e-4) (1.213,8.18e-4) (1.189,7.7e-4) (1.201,6.82e-4) (1.141,6.05e-4) (1.105,5.36e-4) (1.069,4.75e-4) (1.105,4.38e-4) (1.105,3.73e-4) (1.129,3.31e-4) (1.141,2.81e-4) (1.111,2.39e-4) (1.165,2.21e-4) (1.213,1.96e-4) (1.213,1.74e-4) (1.225,1.54e-4) (1.255,1.31e-4) (1.213,1.21e-4) (1.225,1.11e-4) (1.213,1.0e-4)};
\addplot[curveG] coordinates {(0.985,0.085) (0.816,0.0643) (0.761,0.0505) (0.755,0.0448) (0.78,0.0366) (0.804,0.0312) (0.828,0.0265) (0.846,0.0226) (0.852,0.02) (0.864,0.0171) (0.876,0.0151) (0.912,0.014) (0.942,0.0129) (0.948,0.0114) (0.954,9.72e-3) (0.966,8.62e-3) (0.972,7.34e-3) (0.978,6.5e-3) (0.972,5.77e-3) (0.96,4.53e-3) (0.972,4.18e-3) (0.984,3.71e-3) (1.008,3.29e-3) (1.033,2.91e-3) (1.057,2.68e-3) (1.075,2.28e-3) (1.069,1.94e-3) (1.045,1.65e-3) (1.063,1.41e-3) (1.033,1.25e-3) (1.027,1.11e-3) (1.014,9.8e-4) (1.027,8.69e-4) (1.02,7.4e-4) (1.008,6.29e-4) (1.02,5.58e-4) (1.039,4.94e-4) (1.033,4.38e-4) (1.057,3.88e-4) (1.081,3.31e-4) (1.093,2.81e-4) (1.075,2.39e-4) (1.087,2.04e-4) (1.105,1.74e-4) (1.129,1.48e-4) (1.159,1.31e-4) (1.141,1.16e-4) (1.147,1.0e-4)};
\end{axis}
\end{tikzpicture}
\end{document}
